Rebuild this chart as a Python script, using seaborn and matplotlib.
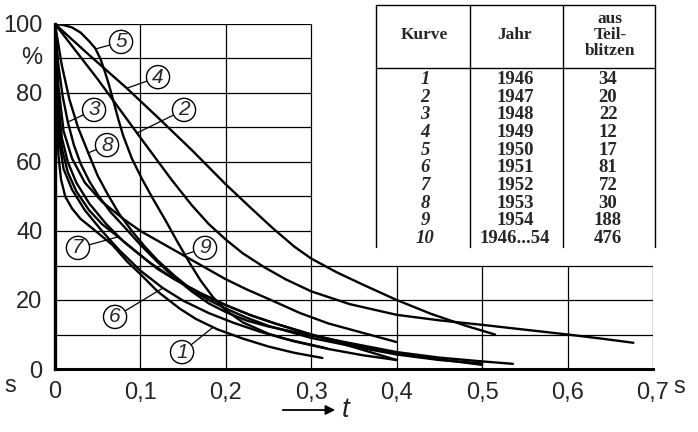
import matplotlib
matplotlib.use('Agg')
import matplotlib.pyplot as plt
import seaborn as sns
import pandas as pd

# Abklingkurven der Teilblitze, t in s, Anteil in %
t1 = [0, 0.002, 0.004, 0.007, 0.012, 0.02, 0.03, 0.045, 0.067, 0.085, 0.1, 0.12, 0.146, 0.165,
      0.19, 0.22, 0.25, 0.28, 0.313]
v1 = [100, 78, 62, 55, 50, 46.5, 43.5, 40.5, 36, 31, 27.5, 22.5, 17.5, 14.5, 11.5, 8.8, 6.5, 4.7, 3.2]

t2 = [0, 0.05, 0.096, 0.136, 0.16, 0.18, 0.2, 0.22, 0.245, 0.27, 0.3, 0.345, 0.4, 0.45, 0.5,
      0.55, 0.6, 0.64, 0.677]
v2 = [100, 84, 68.4, 55, 47.5, 42, 37.5, 33.5, 29.5, 26, 22.5, 18.8, 15.7, 14.1, 12.8, 11.4, 10, 8.8, 7.6]

t3 = [0, 0.004, 0.009, 0.015, 0.022, 0.03, 0.04, 0.05, 0.065, 0.08, 0.1, 0.12, 0.14, 0.16, 0.18,
      0.2, 0.225, 0.25, 0.3, 0.35, 0.4, 0.45, 0.5, 0.536]
v3 = [100, 88, 79, 71.6, 65, 59.5, 54.5, 50.5, 45.5, 41.5, 36, 31, 26.5, 22.5, 19, 16.5, 14, 12.3,
      9.7, 7.3, 4.9, 3.3, 2.2, 1.5]

t4 = [0, 0.04, 0.084, 0.12, 0.16, 0.2, 0.23, 0.255, 0.28, 0.3, 0.33, 0.36, 0.4, 0.44, 0.48, 0.515]
v4 = [100, 91, 81.4, 73, 63.5, 53.5, 46.5, 40.8, 35.5, 32, 28, 24.5, 20, 16, 12.6, 10]

t5 = [0, 0.01, 0.02, 0.03, 0.04, 0.047, 0.053, 0.058, 0.063, 0.068, 0.074, 0.08, 0.09, 0.102,
      0.115, 0.13, 0.143, 0.157, 0.17, 0.185, 0.2, 0.22, 0.25, 0.28, 0.32, 0.36, 0.4]
v5 = [100, 99.7, 99, 97.5, 95, 93, 90, 86.5, 82.5, 78, 72.5, 67.5, 61, 55, 49.2, 42.8, 37, 31,
      25.8, 20.8, 17, 13.5, 10.2, 8, 5.8, 4, 2.6]

t6 = [0, 0.002, 0.005, 0.01, 0.02, 0.035, 0.055, 0.075, 0.1, 0.126, 0.15, 0.18, 0.21, 0.24,
      0.27, 0.318]
v6 = [100, 80, 66, 58, 52, 46, 40, 34.5, 28.5, 23.5, 19.8, 16.2, 13.3, 10.8, 8.7, 6]

t7 = [0, 0.003, 0.008, 0.015, 0.025, 0.04, 0.055, 0.074, 0.09, 0.11, 0.14, 0.17, 0.2, 0.23,
      0.26, 0.3, 0.35, 0.4]
v7 = [100, 76, 64, 57, 51.5, 46, 42, 38.3, 35, 31, 26, 22, 18.5, 15.5, 13, 10, 6.3, 2.6]

t8 = [0, 0.008, 0.017, 0.027, 0.039, 0.05, 0.062, 0.075, 0.09, 0.105, 0.12, 0.14, 0.16, 0.18,
      0.2, 0.225, 0.25, 0.3, 0.35, 0.4, 0.45, 0.5]
v8 = [100, 88, 78, 70, 62.6, 56, 50.5, 45, 40, 35.5, 31.5, 27, 23, 20, 17.5, 14.8, 12.5, 9, 6.5,
      4.2, 2.6, 1.6]

t9 = [0, 0.004, 0.01, 0.02, 0.035, 0.055, 0.08, 0.1, 0.125, 0.15, 0.175, 0.2, 0.225, 0.25,
      0.287, 0.32, 0.36, 0.4]
v9 = [100, 82, 69, 61, 54, 48.5, 43.5, 40, 36.5, 33, 29.5, 26, 23, 20.3, 16.2, 13.2, 10.5, 7.8]

t10 = [0, 0.003, 0.008, 0.015, 0.025, 0.04, 0.06, 0.08, 0.1, 0.12, 0.14, 0.17, 0.2, 0.23, 0.26,
       0.3, 0.35, 0.4, 0.45, 0.5]
v10 = [100, 80, 67, 60, 54, 48, 42, 37, 33, 29, 26, 22, 18.5, 15.5, 13, 10, 7, 4.5, 2.8, 1.2]

# Tabelle
kurve_nr = ['1', '2', '3', '4', '5', '6', '7', '8', '9', '10']
jahre = ['1946', '1947', '1948', '1949', '1950', '1951', '1952', '1953', '1954', '1946...54']
teilblitze = ['34', '20', '22', '12', '17', '81', '72', '30', '188', '476']

# Kurvennummern: (Kreismitte, Punkt auf der Kurve) in Daten-Koordinaten
marken = {
    '5': ((0.0773, 94.8), (0.0480, 92.8)),
    '4': ((0.1206, 84.6), (0.0843, 81.4)),
    '2': ((0.151, 75.1), (0.096, 68.4)),
    '3': ((0.0457, 75.1), (0.0152, 71.6)),
    '8': ((0.0609, 64.9), (0.0386, 62.6)),
    '7': ((0.0269, 35.1), (0.0738, 38.3)),
    '9': ((0.1756, 35.1), (0.1499, 33.0)),
    '6': ((0.0703, 15.1), (0.1265, 23.5)),
    '1': ((0.1487, 4.9), (0.185, 12.1)),
}

kurven = {1: (t1, v1), 2: (t2, v2), 3: (t3, v3), 4: (t4, v4), 5: (t5, v5),
          6: (t6, v6), 7: (t7, v7), 8: (t8, v8), 9: (t9, v9), 10: (t10, v10)}
frames = []
for k, (t, v) in kurven.items():
    frames.append(pd.DataFrame({'kurve': k, 't': t, 'v': v}))
df = pd.concat(frames, ignore_index=True)

sns.set_style('white')
sans = ['Liberation Sans Narrow', 'Liberation Sans', 'DejaVu Sans']
serif = ['Liberation Serif', 'DejaVu Serif']
plt.rcParams['font.family'] = sans

fig = plt.figure(figsize=(6.98, 4.32), dpi=100)
ax = fig.add_axes([55 / 698, 63 / 432, 598 / 698, 345 / 432])

# Gitter (oben rechts frei fuer die Tabelle)
ax.hlines(range(10, 101, 10), 0, 0.3, color='black', lw=0.9)
ax.hlines([10, 20, 30], 0.3, 0.7, color='black', lw=0.9)
ax.vlines([0.1, 0.2, 0.3], 0, 100, color='black', lw=0.9)
ax.vlines([0.4, 0.5, 0.6, 0.7], 0, 30, color='black', lw=0.9)

sns.lineplot(data=df, x='t', y='v', units='kurve', estimator=None, sort=False,
             color='black', lw=1.7, legend=False, ax=ax)

for nr, (pos, punkt) in marken.items():
    ax.annotate(nr, xy=punkt, xytext=pos, ha='center', va='center',
                fontsize=15, style='italic', family=sans,
                bbox=dict(boxstyle='circle,pad=0.1', fc='white', ec='black', lw=1.0),
                arrowprops=dict(arrowstyle='-', color='black', lw=0.9, shrinkA=0, shrinkB=0))

ax.set_xlim(0, 0.7)
ax.set_ylim(0, 100)
ax.set_xticks([0, 0.1, 0.2, 0.3, 0.4, 0.5, 0.6, 0.7])
ax.set_xticklabels(['0', '0,1', '0,2', '0,3', '0,4', '0,5', '0,6', '0,7'])
ax.set_yticks([0, 20, 40, 60, 80, 100])
ax.set_yticklabels(['0', '20', '40', '60', '80', '100'])
ax.tick_params(length=0, labelsize=17, pad=9)
ax.set_xlabel('')
ax.set_ylabel('')
for s in ['top', 'right']:
    ax.spines[s].set_visible(False)
ax.spines['left'].set_linewidth(2.4)
ax.spines['bottom'].set_linewidth(2.2)
ax.spines['left'].set_color('black')
ax.spines['bottom'].set_color('black')

# Ueberlagerung in Pixel-Koordinaten fuer Tabelle und Beschriftung
ov = fig.add_axes([0, 0, 1, 1])
ov.set_xlim(0, 698)
ov.set_ylim(432, 0)
ov.axis('off')

ov.text(32, 58, '%', ha='center', va='center', fontsize=17)
ov.text(10, 386, 's', ha='center', va='center', fontsize=17)
ov.text(679, 387, 's', ha='center', va='center', fontsize=17)
ov.annotate('', xy=(338, 410), xytext=(280, 410),
            arrowprops=dict(arrowstyle='-|>', color='black', lw=1.3, mutation_scale=14))
ov.text(346, 410, 't', ha='center', va='center', fontsize=20, style='italic')

# Tabelle
tab_l, tab_r, tab_o, tab_u = 376, 655, 5, 247
ov.plot([tab_l, tab_r], [tab_o, tab_o], color='black', lw=1.0)
ov.plot([tab_l, tab_r], [68, 68], color='black', lw=1.0)
for x in [tab_l, 470, 563, tab_r]:
    ov.plot([x, x], [tab_o, tab_u], color='black', lw=1.0)

ov.text(424, 35, 'Kurve', ha='center', va='center', fontsize=12.5, weight='bold', family=serif)
ov.text(515, 35, 'Jahr', ha='center', va='center', fontsize=12.5, weight='bold', family=serif)
ov.text(610, 35, 'aus\nTeil-\nblitzen', ha='center', va='center', fontsize=12.5,
        weight='bold', family=serif, linespacing=1.0)
for i in range(len(kurve_nr)):
    y = 79.5 + 17.65 * i
    ov.text(425, y, kurve_nr[i], ha='center', va='center', fontsize=13.5, weight='bold',
            style='italic', family=serif)
    ov.text(515, y, jahre[i], ha='center', va='center', fontsize=13.5, weight='bold', family=serif)
    ov.text(608, y, teilblitze[i], ha='center', va='center', fontsize=13.5, weight='bold', family=serif)

fig.savefig('out.png', dpi=100)
